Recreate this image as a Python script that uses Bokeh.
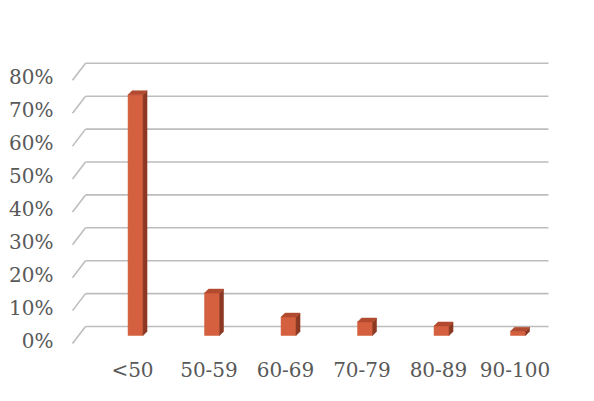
from bokeh.plotting import figure
from bokeh.models import Range1d, FixedTicker
from bokeh.embed import file_html
from bokeh.resources import INLINE

# ---- data ----
categories = ["<50", "50-59", "60-69", "70-79", "80-89", "90-100"]
percent_values = [73.2, 12.9, 5.6, 4.1, 2.9, 1.3]
y_ticks = [0, 10, 20, 30, 40, 50, 60, 70, 80]
y_tick_labels = ["0%", "10%", "20%", "30%", "40%", "50%", "60%", "70%", "80%"]

# ---- style / geometry constants ----
PX_X = 1 / 76.5      # data units per pixel horizontally
PX_Y = 1 / 3.29      # data units per pixel vertically
FONT = "DejaVu Serif"
LABEL_COLOR = "#595959"
FRONT = "#d4603f"
SIDE = "#8c3822"
TOP = "#b24a2f"
GRID = "#bdbdbd"

p = figure(width=578, height=385, output_backend="svg", toolbar_location=None,
           x_range=Range1d(-0.941, 5.595), y_range=Range1d(-3.34, 89.67),
           min_border_left=60, min_border_right=18, min_border_top=45,
           min_border_bottom=34)
p.outline_line_color = None
p.xgrid.visible = False
p.ygrid.visible = False
p.background_fill_color = "white"
p.border_fill_color = "white"

# ---- 3D-style grid (side wall diagonal + back wall line) ----
x_front = -0.784
x_back0 = -0.614
x_back1 = 5.438
front_off = 3 * PX_Y
back_off = 14 * PX_Y
gx0, gy0, gx1, gy1 = [], [], [], []
for t in y_ticks:
    gx0 += [x_front, x_back0]
    gy0 += [t - front_off, t + back_off]
    gx1 += [x_back0, x_back1]
    gy1 += [t + back_off, t + back_off]
p.segment(x0=gx0, y0=gy0, x1=gx1, y1=gy1, line_color=GRID, line_width=1.6)

# ---- 3D bars ----
bw = 15 * PX_X
dx = 4 * PX_X
dy = 4 * PX_Y
base = 5 * PX_Y
centers = [i + 0.04 for i in range(len(categories))]
tops = [v + base for v in percent_values]

p.vbar(x=centers, width=bw, bottom=base, top=tops, fill_color=FRONT,
       line_color=FRONT, line_width=0.5)
side_xs, side_ys, cap_xs, cap_ys = [], [], [], []
for c, t in zip(centers, tops):
    xl, xr = c - bw / 2, c + bw / 2
    side_xs.append([xr, xr, xr + dx, xr + dx])
    side_ys.append([base, t, t + dy, base + dy])
    cap_xs.append([xl, xr, xr + dx, xl + dx])
    cap_ys.append([t, t, t + dy, t + dy])
p.patches(side_xs, side_ys, fill_color=SIDE, line_color=SIDE, line_width=0.5)
p.patches(cap_xs, cap_ys, fill_color=TOP, line_color=TOP, line_width=0.5)

# ---- axes ----
p.yaxis.ticker = FixedTicker(ticks=y_ticks)
p.yaxis.major_label_overrides = {t: l for t, l in zip(y_ticks, y_tick_labels)}
p.xaxis.ticker = FixedTicker(ticks=list(range(len(categories))))
p.xaxis.major_label_overrides = {i: c for i, c in enumerate(categories)}
for ax in (p.xaxis, p.yaxis):
    ax.axis_line_color = None
    ax.major_tick_line_color = None
    ax.minor_tick_line_color = None
    ax.major_tick_out = 0
    ax.major_tick_in = 0
    ax.major_label_text_font = FONT
    ax.major_label_text_font_size = "20px"
    ax.major_label_text_color = LABEL_COLOR
p.yaxis.major_label_standoff = 7
p.xaxis.major_label_standoff = 6

open("out.html", "w").write(file_html(p, INLINE))
